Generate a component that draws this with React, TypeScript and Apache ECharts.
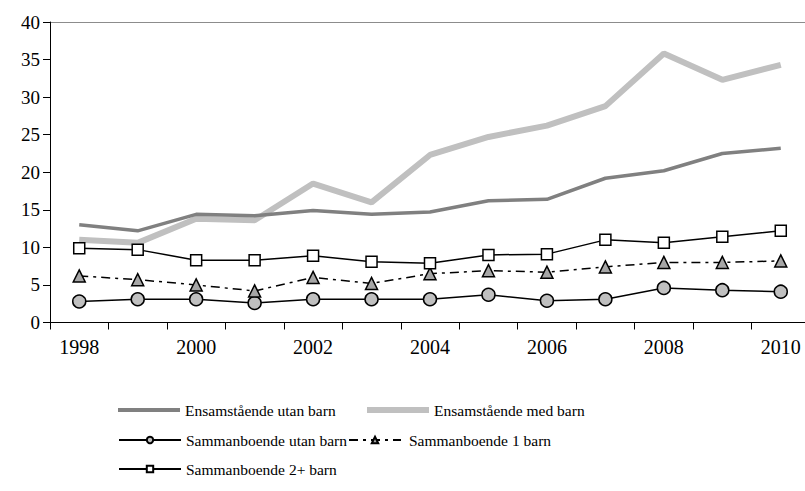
import React, { useEffect, useRef } from "react";
import * as echarts from "echarts";

const years = ["1998","1999","2000","2001","2002","2003","2004","2005","2006","2007","2008","2009","2010"];
const ensamUtan = [13.0, 12.2, 14.4, 14.2, 14.9, 14.4, 14.7, 16.2, 16.4, 19.2, 20.2, 22.5, 23.2];
const ensamMed = [11.0, 10.6, 13.8, 13.6, 18.5, 16.0, 22.3, 24.7, 26.2, 28.8, 35.8, 32.3, 34.3];
const sambUtan = [2.8, 3.1, 3.1, 2.6, 3.1, 3.1, 3.1, 3.7, 2.9, 3.1, 4.6, 4.3, 4.1];
const samb1 = [6.2, 5.7, 5.0, 4.2, 6.0, 5.2, 6.5, 6.9, 6.7, 7.4, 8.0, 8.0, 8.2];
const samb2 = [9.9, 9.7, 8.3, 8.3, 8.9, 8.1, 7.9, 9.0, 9.1, 11.0, 10.6, 11.4, 12.2];
const names = [
  "Ensamstående utan barn",
  "Ensamstående med barn",
  "Sammanboende utan barn",
  "Sammanboende 1 barn",
  "Sammanboende 2+ barn",
];

const FONT = "'Liberation Serif', 'Times New Roman', serif";

export default function App() {
  const ref = useRef<HTMLDivElement>(null);
  useEffect(() => {
    if (!ref.current) return;
    document.body.style.overflow = "hidden";
    const chart = echarts.init(ref.current, undefined, { renderer: "svg" });
    const textStyle = { fontSize: 15.5, fontFamily: FONT, color: "#000" };
    const legendBase = {
      itemWidth: 62,
      itemHeight: 8,
      padding: 0,
      textStyle,
      selectedMode: false as const,
    };
    chart.setOption({
      animation: false,
      backgroundColor: "#fff",
      textStyle: { fontFamily: FONT },
      grid: {
        left: 50,
        top: 22,
        width: 760,
        height: 300.5,
      },
      graphic: [
        {
          type: "line",
          shape: { x1: 50, y1: 22.5, x2: 820, y2: 22.5 },
          style: { stroke: "#8c8c8c", lineWidth: 1 },
          silent: true,
        },
      ],
      xAxis: {
        type: "category",
        data: years,
        boundaryGap: true,
        axisLine: { lineStyle: { color: "#000", width: 1 } },
        axisTick: { show: true, length: 7, interval: 0, lineStyle: { color: "#000" } },
        axisLabel: {
          interval: 1,
          margin: 14,
          fontSize: 20,
          fontFamily: FONT,
          color: "#000",
        },
        splitLine: { show: false },
      },
      yAxis: {
        type: "value",
        min: 0,
        max: 40,
        interval: 5,
        axisLine: { show: true, lineStyle: { color: "#000", width: 1 } },
        axisTick: { show: true, length: 7, lineStyle: { color: "#000" } },
        axisLabel: { margin: 10, fontSize: 19, fontFamily: FONT, color: "#000" },
        splitLine: { show: false },
      },
      legend: [
        { ...legendBase, itemHeight: 4, data: [{ name: names[0], icon: "rect" }], left: 118, top: 402 },
        { ...legendBase, itemHeight: 6, data: [{ name: names[1], icon: "rect" }], left: 367, top: 402 },
        { ...legendBase, data: [names[2]], left: 118, top: 432 },
        { ...legendBase, itemWidth: 52, data: [names[3]], left: 348, top: 432, textStyle: { ...textStyle, padding: [0, 0, 0, 3] } },
        { ...legendBase, data: [names[4]], left: 118, top: 461 },
      ],
      series: [
        {
          name: names[0],
          type: "line",
          data: ensamUtan,
          showSymbol: false,
          symbol: "none",
          lineStyle: { color: "#808080", width: 3.5 },
          itemStyle: { color: "#808080" },
          z: 2,
        },
        {
          name: names[1],
          type: "line",
          data: ensamMed,
          showSymbol: false,
          symbol: "none",
          lineStyle: { color: "#c0c0c0", width: 6 },
          itemStyle: { color: "#c0c0c0" },
          z: 1,
        },
        {
          name: names[2],
          type: "line",
          data: sambUtan,
          symbol: "circle",
          symbolSize: 13,
          lineStyle: { color: "#000", width: 1.5 },
          itemStyle: { color: "#c0c0c0", borderColor: "#000", borderWidth: 1.5 },
          z: 3,
        },
        {
          name: names[3],
          type: "line",
          data: samb1,
          symbol: "triangle",
          symbolSize: 12,
          lineStyle: { color: "#000", width: 1.5, type: [9, 5, 3, 5] },
          itemStyle: { color: "#a6a6a6", borderColor: "#000", borderWidth: 1.5 },
          z: 3,
        },
        {
          name: names[4],
          type: "line",
          data: samb2,
          symbol: "rect",
          symbolSize: 11,
          lineStyle: { color: "#000", width: 1.5 },
          itemStyle: { color: "#fff", borderColor: "#000", borderWidth: 1.5 },
          z: 3,
        },
      ],
    });
    return () => chart.dispose();
  }, []);
  return (
    <div
      ref={ref}
      style={{ position: "absolute", left: 0, top: 0, width: 820, height: 491 }}
    />
  );
}
